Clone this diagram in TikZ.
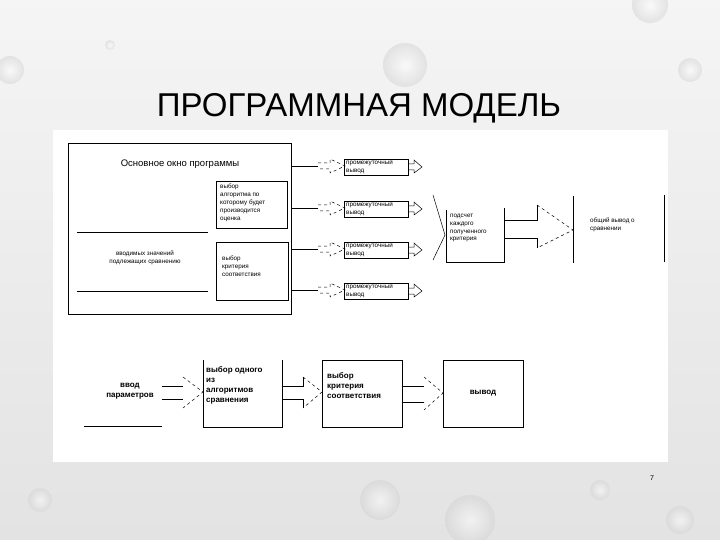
\documentclass[tikz,border=0pt]{standalone}
\usepackage{fontspec}
\setmainfont{Liberation Sans}
\begin{document}
\begin{tikzpicture}[x=1pt,y=-1pt,
  ln/.style={line width=0.8pt},
  tx/.style={font=\fontsize{6.3}{7.8}\selectfont, align=left, anchor=north west, inner sep=0pt},
  bx/.style={font=\fontsize{8}{10}\selectfont\bfseries, align=left, inner sep=0pt},
  harr/.style={draw, line width=0.5pt, dashed},
]
\useasboundingbox (0,0) rectangle (720,540);
\shade[top color=gray!8, bottom color=gray!22] (0,0) rectangle (720,540);
\foreach \cx/\cy/\r in {10/70/14, 110/45/5, 405/65/22, 650/5/18, 690/70/12, 380/500/20, 470/520/25, 600/490/10, 680/520/14, 40/500/12}
  \shade[inner color=white, outer color=gray!35, opacity=0.5] (\cx,\cy) circle (\r);
\node (title) at (359,108) {\fontsize{33}{38}\selectfont ПРОГРАММНАЯ МОДЕЛЬ};
\fill[white] (53,130) rectangle (668,462);
\node (pg) at (652,478) {\fontsize{7}{8}\selectfont 7};
% main window
\draw[ln] (68,143) rectangle (291,314);
\node (main) at (180,164) {\fontsize{9.5}{11}\selectfont Основное окно программы};
\draw[ln] (216,181) rectangle (287,228);
\node[tx] (alg) at (220,184) {выбор\\алгоритма по\\которому будет\\производится\\оценка};
\draw[ln] (216,242) rectangle (288,300);
\node[tx] (crit) at (222,256) {выбор\\критерия\\соответствия};
\draw[ln] (77,232) -- (208,232) (77,291) -- (208,291);
\node[font=\fontsize{6.3}{7.8}\selectfont, align=center] (vv) at (145,258) {вводимых значений\\подлежащих сравнению};
% intermediate rows
\foreach \y/\n in {166/a,208/b,249/c,290/d}{
  \draw[ln] (291,\y) -- (318,\y);
  \draw[harr] (318,\y-3) -- (330,\y-3) -- (330,\y-7) -- (345,\y) -- (330,\y+7) -- (330,\y+3) -- (318,\y+3);
  \draw[ln] (344,\y-7) rectangle (408,\y+9);
  \node[tx] (p\n) at (346,\y-6) {промежуточный\\вывод};
  \draw[line width=0.5pt] (408,\y-2) -- (414,\y-2) -- (414,\y-6) -- (422,\y+1) -- (414,\y+7) -- (414,\y+4) -- (408,\y+4);
}
\draw[line width=0.5pt] (433,195) -- (445,235) -- (433,260);
\draw[ln] (446,210) -- (446,262) -- (504,262) -- (504,208);
\node[tx] (sum) at (450,214) {подсчет\\каждого\\полученного\\критерия};
\draw[line width=0.7pt] (504,220) -- (537,220) -- (537,205);
\draw[line width=0.7pt] (504,238) -- (537,238) -- (537,248);
\draw[harr] (537,205) -- (573,230) -- (537,248);
\draw[ln] (573,196) -- (573,263) (664,195) -- (664,262);
\node[tx] (gen) at (590,218) {общий вывод о\\сравнении};
% bottom flow
\node[bx, align=center] (in) at (130,391) {ввод\\параметров};
\draw[ln] (84,426) -- (162,426);
\draw[ln] (162,386) -- (183,386) (162,399) -- (183,399);
\draw[harr] (183,377) -- (203,392) -- (183,408);
\draw[ln] (203,360) -- (203,427) -- (282,427) -- (282,360);
\node[bx, anchor=north west] (b2) at (206,366) {выбор одного\\из\\алгоритмов\\сравнения};
\draw[ln] (282,386) -- (303,386) -- (303,377) (282,399) -- (303,399) -- (303,408);
\draw[harr] (303,377) -- (322,392) -- (303,408);
\draw[ln] (322,360) rectangle (402,427);
\node[bx, anchor=north west] (b3) at (327,372) {выбор\\критерия\\соответствия};
\draw[ln] (402,386) -- (424,386) (402,402) -- (424,402);
\draw[harr] (424,377) -- (443,393) -- (424,410);
\draw[ln] (443,360) rectangle (523,427);
\node[bx] (b4) at (483,393) {вывод};
\end{tikzpicture}
\end{document}
